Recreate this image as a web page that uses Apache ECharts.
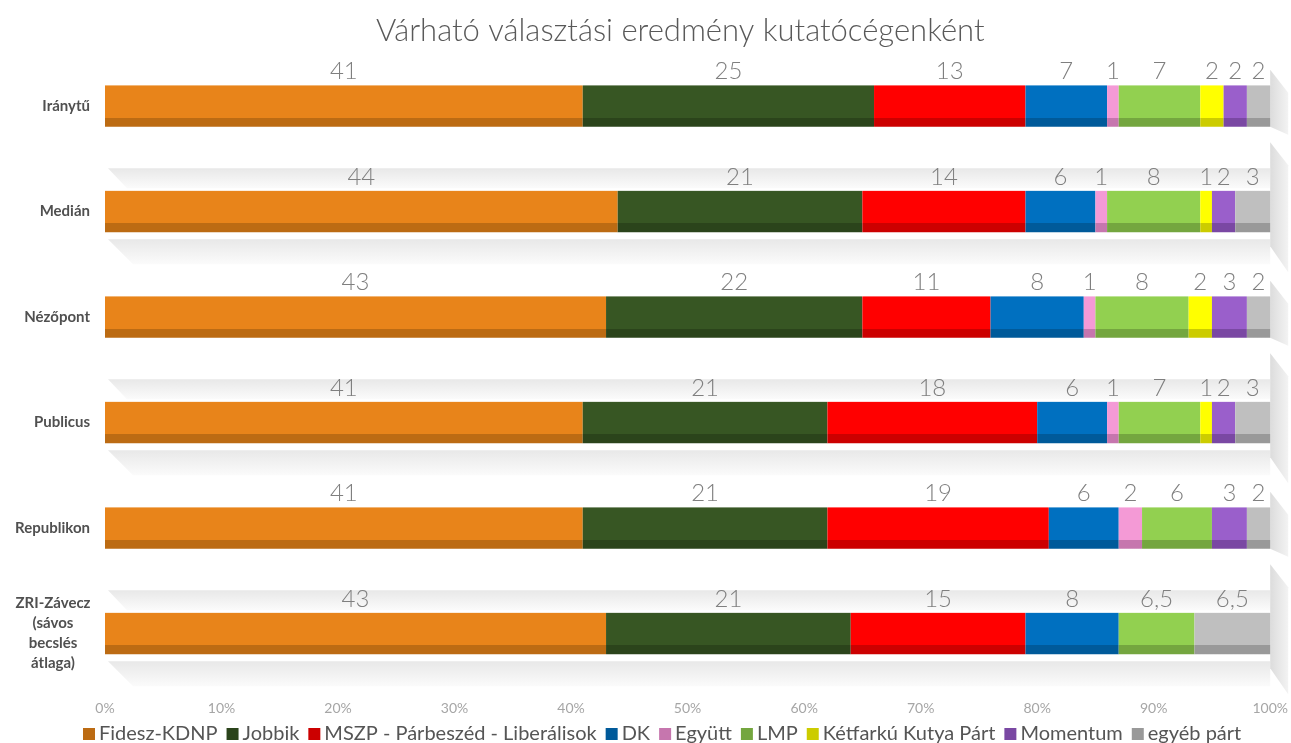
<!DOCTYPE html>
<html>
<head>
<meta charset="utf-8">
<title>Várható választási eredmény kutatócégenként</title>
<script src="https://cdn.jsdelivr.net/npm/echarts@6/dist/echarts.min.js"></script>
<style>
  html, body { margin: 0; padding: 0; background: #fff; }
  #chart { width: 1291px; height: 743px; }
</style>
</head>
<body>
<div id="chart"></div>
<script>
// kutatócégek (felülről lefelé)
const companies = ["Iránytű", "Medián", "Nézőpont", "Publicus", "Republikon", "ZRI-Závecz\n(sávos\nbecslés\nátlaga)"];

const parties = ["Fidesz-KDNP", "Jobbik", "MSZP - Párbeszéd - Liberálisok", "DK", "Együtt", "LMP", "Kétfarkú Kutya Párt", "Momentum", "egyéb párt"];

// százalékok cégenként
const fidesz   = [41, 44, 43, 41, 41, 43];
const jobbik   = [25, 21, 22, 21, 21, 21];
const mszp     = [13, 14, 11, 18, 19, 15];
const dk       = [7, 6, 8, 6, 6, 8];
const egyutt   = [1, 1, 1, 1, 2, null];
const lmp      = [7, 8, 8, 7, 6, 6.5];
const ketfarku = [2, 1, 2, 1, null, null];
const momentum = [2, 2, 3, 2, 3, null];
const egyeb    = [2, 3, 2, 3, 2, 6.5];

const xTicks = [0, 10, 20, 30, 40, 50, 60, 70, 80, 90, 100];

const partyValues = [fidesz, jobbik, mszp, dk, egyutt, lmp, ketfarku, momentum, egyeb];
// front face / darker bottom strip
const faceColors = ["#E8841A", "#375623", "#FF0000", "#0070C0", "#F49AD6", "#92D050", "#FFFF00", "#9A5FCB", "#BFBFBF"];
const darkColors = ["#BC6B13", "#2B441B", "#CC0000", "#005A9A", "#C676AE", "#74A63F", "#CCCC00", "#7A48A3", "#999999"];

const FONT = "Lato, 'Open Sans', sans-serif";
const BAR_H = 42;

const chart = echarts.init(document.getElementById("chart"));

function barGradient(face, dark) {
  return new echarts.graphic.LinearGradient(0, 0, 0, 1, [
    { offset: 0, color: "#ffffff" },
    { offset: 0.03, color: face },
    { offset: 0.78, color: face },
    { offset: 0.78, color: dark },
    { offset: 1, color: dark },
  ]);
}

function fmt(v) {
  return String(v).replace(".", ",");
}

const barSeries = parties.map((name, k) => ({
  name: name,
  type: "bar",
  stack: "total",
  barWidth: BAR_H,
  z: 3,
  data: partyValues[k],
  itemStyle: { color: barGradient(faceColors[k], darkColors[k]) },
  label: {
    show: true,
    position: "top",
    distance: 1,
    fontFamily: FONT,
    fontWeight: 300,
    fontSize: 24,
    color: "#7f7f7f",
    formatter: (p) => (p.value == null ? "" : fmt(p.value)),
  },
  emphasis: { disabled: true },
}));

// 3D "polc" árnyékok a sávok körül
const shelfSeries = {
  type: "custom",
  silent: true,
  clip: false,
  z: 1,
  data: companies.map((c, i) => [i]),
  encode: { y: 0 },
  renderItem: (params, api) => {
    const i = api.value(0);
    const left = api.coord([0, i]);
    const right = api.coord([100, i]);
    const yc = left[1];
    const top = yc - BAR_H / 2;
    const bot = yc + BAR_H / 2;
    const x0 = left[0];
    const x1 = right[0];
    const bandFill = new echarts.graphic.LinearGradient(0, 0, 0, 1, [
      { offset: 0, color: "#e8e8e8" },
      { offset: 1, color: "#fbfbfb" },
    ]);
    const sideFill = new echarts.graphic.LinearGradient(0, 0, 1, 0, [
      { offset: 0, color: "#dcdcdc" },
      { offset: 1, color: "#f3f3f3" },
    ]);
    const children = [];
    if (i % 2 === 1) {
      children.push({
        type: "polygon",
        shape: { points: [[x0 + 3, top - 22], [x1, top - 22], [x1, top - 2], [x0 + 22, top - 2]] },
        style: { fill: bandFill },
      });
      children.push({
        type: "polygon",
        shape: { points: [[x0 + 3, bot + 7], [x1, bot + 7], [x1, bot + 32], [x0 + 28, bot + 32]] },
        style: { fill: bandFill },
      });
      children.push({
        type: "polygon",
        shape: { points: [[x1, top - 48], [x1 + 18, top - 25], [x1 + 18, bot + 40], [x1, bot + 14]] },
        style: { fill: sideFill },
      });
    } else {
      children.push({
        type: "polygon",
        shape: { points: [[x1, top - 15], [x1 + 18, top + 8], [x1 + 18, bot + 8], [x1, bot]] },
        style: { fill: sideFill },
      });
    }
    return { type: "group", children: children };
  },
};

const option = {
  backgroundColor: "#ffffff",
  animation: false,
  title: {
    text: "Várható választási eredmény kutatócégenként",
    left: 371,
    top: 10,
    textStyle: {
      fontFamily: FONT,
      fontWeight: 300,
      fontSize: 31,
      color: "#595959",
    },
  },
  legend: {
    top: 719,
    left: 78,
    itemWidth: 12,
    itemHeight: 12,
    itemGap: 9,
    icon: "rect",
    textStyle: { fontFamily: FONT, fontSize: 20, color: "#555555", padding: [0, 0, 0, -1] },
    data: parties.map((p, k) => ({ name: p, itemStyle: { color: darkColors[k] } })),
  },
  grid: {
    left: 105,
    right: 20,
    top: 53,
    bottom: 57,
    containLabel: false,
  },
  xAxis: {
    type: "value",
    min: 0,
    max: 100,
    interval: 10,
    axisLine: { show: false },
    axisTick: { show: false },
    splitLine: { show: false },
    axisLabel: {
      margin: 15,
      fontFamily: FONT,
      fontSize: 14,
      color: "#a6a6a6",
      formatter: (v) => (xTicks.includes(v) ? v + "%" : ""),
    },
  },
  yAxis: {
    type: "category",
    inverse: true,
    data: companies,
    axisLine: { show: false },
    axisTick: { show: false },
    axisLabel: {
      margin: 15,
      fontFamily: FONT,
      fontWeight: "bold",
      fontSize: 15,
      color: "#505050",
      lineHeight: 20,
      formatter: (v) => {
        const lines = v.split("\n");
        if (lines.length === 1) return v;
        return lines.map((l) => "{c|" + l + "}").join("\n");
      },
      rich: {
        c: {
          width: 74,
          align: "center",
          fontFamily: FONT,
          fontWeight: "bold",
          fontSize: 15,
          lineHeight: 20,
          color: "#505050",
        },
      },
    },
  },
  series: [shelfSeries].concat(barSeries),
};

chart.setOption(option);
</script>
</body>
</html>
